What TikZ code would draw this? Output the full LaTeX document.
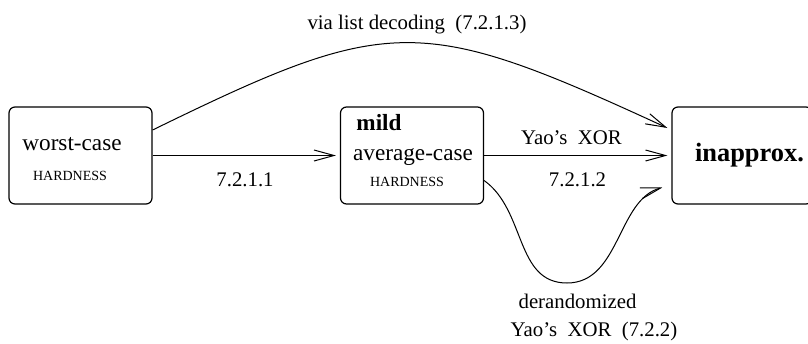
\documentclass[tikz,border=0pt]{standalone}
\usepackage{fontspec}
\setmainfont{Liberation Serif}
\usetikzlibrary{calc}
\usetikzlibrary{positioning}
\usetikzlibrary{arrows.meta}

\begin{document}
\begin{tikzpicture}[%
  >={Straight Barb[length=10pt,width=5.5pt]},
  x=0.5pt, y=-0.5pt,
  hardbox/.style={draw, rounded corners=3pt, line width=0.6pt,
    minimum width=71.5pt, minimum height=48.5pt, inner sep=0pt},
  arr/.style={->, line width=0.5pt},
  boxtext/.style={anchor=base, inner sep=0pt, font=\fontsize{11.6}{13}\selectfont},
  smalltext/.style={anchor=base, inner sep=0pt, font=\fontsize{7}{8}\selectfont},
  edgetext/.style={anchor=base, inner sep=0pt, font=\fontsize{10.4}{12}\selectfont},
]

  \useasboundingbox (0,0) rectangle (808,343);

  \node[hardbox] (worst) at (80.5,155.5) {};
  \node[hardbox] (mild) at (412,155.5) {};
  \node[hardbox, minimum width=70pt] (inapprox) at (742,155.5) {};

  \node[boxtext] (worstA) at (72,150) {worst-case};
  \node[smalltext] (worstB) at (70,180) {HARDNESS};
  \node[boxtext, font=\fontsize{11.6}{13}\selectfont\bfseries] (mildA) at (379,130.5) {mild};
  \node[boxtext] (mildB) at (413,160) {average-case};
  \node[smalltext] (mildC) at (407,186) {HARDNESS};
  \node[boxtext, font=\fontsize{13.2}{15}\selectfont\bfseries] (inapproxA) at (749.5,161.5) {inapprox.};

  \draw[arr, shorten >=2pt] (worst.east) -- (mild.west);
  \draw[arr, shorten >=2pt] (mild.east) -- (inapprox.west);
  \draw[arr] ($(worst.east)+(0,-25.5)$) .. controls (390,14) and (420,14)
    .. ($(inapprox.west)+(-4,-27.5)$);
  \coordinate (dip) at (567,283);
  \draw[arr] ($(mild.east)+(0,25)$) .. controls +(42,30) and +(-52,0) .. (dip)
    .. controls +(53,0) and +(-45,12) .. ($(inapprox.west)+(-9,32)$);

  \node[edgetext] (labA) at (245,186) {7.2.1.1};
  \node[edgetext] (labB) at (571.5,144) {Yao's\ \ XOR};
  \node[edgetext] (labC) at (577.5,186.5) {7.2.1.2};
  \node[edgetext] (labD) at (417,29) {via list decoding\ \ (7.2.1.3)};
  \node[edgetext] (labE) at (577.5,308) {derandomized};
  \node[edgetext] (labF) at (594,336.5) {Yao's\ \ XOR\ \ (7.2.2)};

\end{tikzpicture}
\end{document}
